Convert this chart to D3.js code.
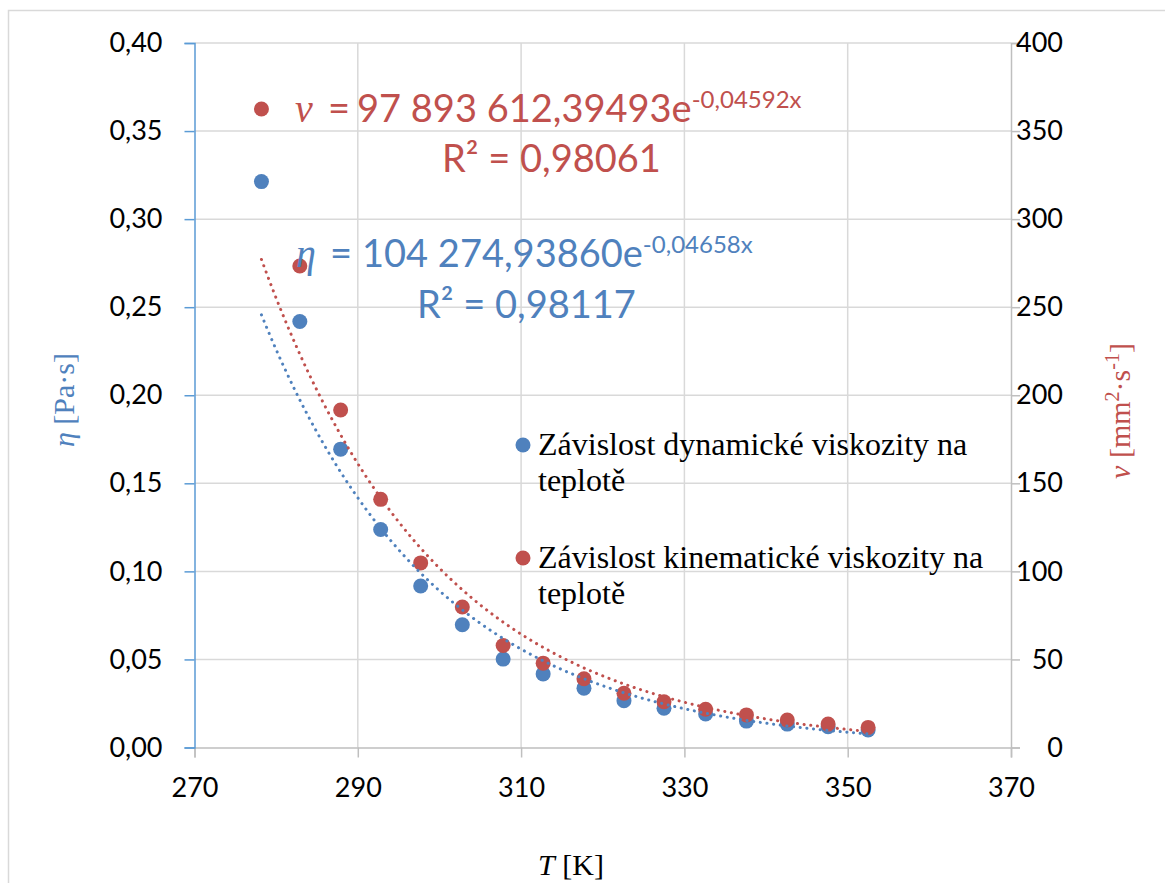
<!DOCTYPE html>
<html><head><meta charset="utf-8">
<script src="https://cdn.jsdelivr.net/npm/d3@7"></script>
<style>
html,body{margin:0;padding:0;background:#fff;}
svg{display:block;}
</style></head>
<body>
<svg id="c" width="1165" height="883"></svg>
<script>
// ---- data ----
const temperatureK = [278.2, 282.9, 287.9, 292.8, 297.7, 302.8, 307.8, 312.7, 317.7, 322.6, 327.5, 332.6, 337.6, 342.6, 347.6, 352.5];
const dynamicViscosity = [0.3213, 0.2419, 0.1694, 0.1238, 0.0917, 0.0697, 0.0502, 0.0418, 0.0337, 0.0266, 0.0223, 0.0190, 0.0150, 0.0133, 0.0118, 0.0099];
const kinematicViscosity = [362.5, 273.4, 191.6, 140.9, 104.8, 79.8, 57.9, 47.9, 39.0, 30.8, 26.0, 21.7, 18.5, 15.6, 13.3, 11.4];
const trendA = [104274.93860, 97893612.39493];   // [eta, nu]
const trendB = [-0.04658, -0.04592];
const xTicks = [270, 290, 310, 330, 350, 370];
const yLeftTicks = [0, 0.05, 0.10, 0.15, 0.20, 0.25, 0.30, 0.35, 0.40];
const yRightTicks = [0, 50, 100, 150, 200, 250, 300, 350, 400];
const legendLabels = [["Závislost dynamické viskozity na", "teplotě"], ["Závislost kinematické viskozity na", "teplotě"]];

const BLUE = "#4F81BD", RED = "#C0504D", GRID = "#D9D9D9", AXIS_BLUE = "#5B9BD5", AXIS_GRAY = "#BFBFBF";
const SANS = "Lato, 'Open Sans', sans-serif", SERIF = "'Liberation Serif', 'DejaVu Serif', serif";

const svg = d3.select("#c");
const L = 194.5, R = 1011, T = 43, B = 747.5;
const x = d3.scaleLinear().domain([270, 370]).range([L, R]);
const yL = d3.scaleLinear().domain([0, 0.4]).range([B, T]);
const yR = d3.scaleLinear().domain([0, 400]).range([B, T]);

// outer border
svg.append("rect").attr("x", 8.5).attr("y", 10.5).attr("width", 1200).attr("height", 900)
  .attr("fill", "none").attr("stroke", GRID).attr("stroke-width", 1.5);

// gridlines
const g = svg.append("g");
g.selectAll(".hg").data(yLeftTicks.slice(1)).join("line")
  .attr("x1", L).attr("x2", R).attr("y1", d => yL(d)).attr("y2", d => yL(d))
  .attr("stroke", GRID).attr("stroke-width", 1.5);
g.selectAll(".vg").data(xTicks.slice(1, -1)).join("line")
  .attr("x1", d => x(d)).attr("x2", d => x(d)).attr("y1", T).attr("y2", B)
  .attr("stroke", GRID).attr("stroke-width", 1.5);

// bottom axis
const xAxis = svg.append("g").attr("transform", `translate(0,${B})`)
  .call(d3.axisBottom(x).tickValues(xTicks).tickSize(10).tickPadding(20).tickFormat(d3.format("d")));
xAxis.select(".domain").attr("stroke", AXIS_GRAY).attr("stroke-width", 1.5);
xAxis.selectAll(".tick line").attr("stroke", AXIS_GRAY).attr("stroke-width", 1.5);
xAxis.selectAll(".tick text").attr("font-family", SANS).attr("font-size", 27).attr("fill", "#000");

// right axis
const rAxis = svg.append("g").attr("transform", `translate(${R},0)`)
  .call(d3.axisRight(yR).tickValues(yRightTicks).tickSize(9).tickPadding(0).tickFormat(d3.format("d")));
rAxis.select(".domain").attr("stroke", AXIS_GRAY).attr("stroke-width", 1.5);
rAxis.selectAll(".tick line").attr("stroke", AXIS_GRAY).attr("stroke-width", 1.5);
rAxis.selectAll(".tick text").attr("font-family", SANS).attr("font-size", 27).attr("fill", "#000")
  .attr("text-anchor", "end").attr("x", 52);

// left axis
const fmtL = d => d3.format(".2f")(d).replace(".", ",");
const lAxis = svg.append("g").attr("transform", `translate(${L},0)`)
  .call(d3.axisLeft(yL).tickValues(yLeftTicks).tickSize(10).tickPadding(22).tickFormat(fmtL));
lAxis.select(".domain").attr("stroke", AXIS_BLUE).attr("stroke-width", 1.5);
lAxis.selectAll(".tick line").attr("stroke", AXIS_BLUE).attr("stroke-width", 1.5);
lAxis.selectAll(".tick text").attr("font-family", SANS).attr("font-size", 27).attr("fill", "#000");

// markers
const pts = temperatureK.map((t, i) => ({t, eta: dynamicViscosity[i], nu: kinematicViscosity[i]}));
svg.append("g").selectAll("circle").data(pts).join("circle")
  .attr("cx", d => x(d.t)).attr("cy", d => yL(d.eta)).attr("r", 7.5).attr("fill", BLUE);
svg.append("g").selectAll("circle").data(pts).join("circle")
  .attr("cx", d => x(d.t)).attr("cy", d => yR(d.nu)).attr("r", 7.5).attr("fill", RED);

// exponential trendlines
const tMin = d3.min(temperatureK), tMax = d3.max(temperatureK);
const samples = d3.range(0, 201).map(k => tMin + (tMax - tMin) * k / 200);
const lineEta = d3.line().x(t => x(t)).y(t => yL(trendA[0] * Math.exp(trendB[0] * t)));
const lineNu = d3.line().x(t => x(t)).y(t => yR(trendA[1] * Math.exp(trendB[1] * t)));
svg.append("path").attr("d", lineEta(samples)).attr("fill", "none").attr("stroke", BLUE)
  .attr("stroke-width", 3).attr("stroke-linecap", "round").attr("stroke-dasharray", "0.1 6.6");
svg.append("path").attr("d", lineNu(samples)).attr("fill", "none").attr("stroke", RED)
  .attr("stroke-width", 3).attr("stroke-linecap", "round").attr("stroke-dasharray", "0.1 6.6");

// equations
function equation(sym, xSym, xEq, xNum, yBase, num, exp, color) {
  const t = svg.append("text").attr("y", yBase).attr("fill", color).attr("font-family", SANS).attr("font-size", 38);
  t.append("tspan").attr("x", xSym).attr("font-family", SERIF).attr("font-style", "italic").attr("font-size", 40).text(sym);
  t.append("tspan").attr("x", xEq).text("=");
  t.append("tspan").attr("x", xNum).text(num);
  t.append("tspan").attr("dy", -14).attr("font-size", 24).text(exp);
}
equation("ν", 295, 328, 357, 122, "97 893 612,39493e", "-0,04592x", RED);
svg.append("text").attr("x", 442).attr("y", 172).attr("fill", RED).attr("font-family", SANS).attr("font-size", 38).text("R² = 0,98061");
equation("η", 296, 330, 362, 267, "104 274,93860e", "-0,04658x", BLUE);
svg.append("text").attr("x", 417).attr("y", 318).attr("fill", BLUE).attr("font-family", SANS).attr("font-size", 38).text("R² = 0,98117");

// legend
const legColors = [BLUE, RED];
const legY = [455, 568];
legendLabels.forEach((lines, i) => {
  svg.append("circle").attr("cx", 523).attr("cy", legY[i] - 10).attr("r", 7.5).attr("fill", legColors[i]);
  lines.forEach((s, j) => {
    svg.append("text").attr("x", 538).attr("y", legY[i] + j * 36).attr("font-family", SERIF)
      .attr("font-size", 32).attr("fill", "#000").text(s);
  });
});

// axis titles
const lt = svg.append("text").attr("transform", "translate(74,400) rotate(-90)").attr("text-anchor", "middle")
  .attr("font-family", SERIF).attr("font-size", 30).attr("fill", BLUE);
lt.append("tspan").attr("font-style", "italic").text("η");
lt.append("tspan").text(" [Pa·s]");

const rt = svg.append("text").attr("transform", "translate(1130,411) rotate(-90)").attr("text-anchor", "middle")
  .attr("font-family", SERIF).attr("font-size", 30).attr("fill", RED);
rt.append("tspan").attr("font-style", "italic").text("ν");
rt.append("tspan").text(" [mm");
rt.append("tspan").attr("dy", -11).attr("font-size", 20).text("2");
rt.append("tspan").attr("dy", 11).text("·s");
rt.append("tspan").attr("dy", -11).attr("font-size", 20).text("-1");
rt.append("tspan").attr("dy", 11).text("]");

const bt = svg.append("text").attr("x", 571).attr("y", 875).attr("text-anchor", "middle")
  .attr("font-family", SERIF).attr("font-size", 30).attr("fill", "#000");
bt.append("tspan").attr("font-style", "italic").text("T");
bt.append("tspan").text(" [K]");
</script>
</body></html>
